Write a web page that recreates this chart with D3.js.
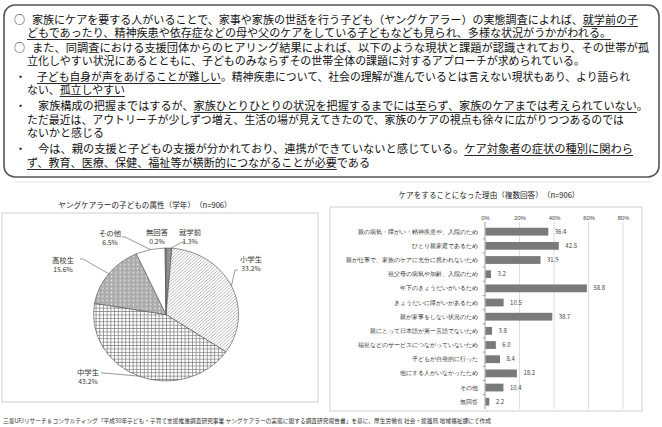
<!DOCTYPE html>
<html><head><meta charset="utf-8">
<script src="https://cdn.jsdelivr.net/npm/d3@7"></script>
<style>
html,body{margin:0;padding:0;background:#fff;}
svg{display:block;font-family:"Noto Sans CJK JP","Noto Sans",sans-serif;}
</style></head>
<body>
<svg id="c" width="662" height="427"></svg>
<script>
// ---------- DATA ----------
const topMarks = ["○", "", "○", "", "・", "", "・", "", "", "・", ""];
const topTexts = [
  [["家族にケアを要する人がいることで、家事や家族の世話を行う子ども（ヤングケアラー）の実態調査によれば、",0],["就学前の子",1]],
  [["どもであったり、精神疾患や依存症などの母や父のケアをしている子どもなども見られ、多様な状況がうかがわれる。",1]],
  [["また、同調査における支援団体からのヒアリング結果によれば、以下のような現状と課題が認識されており、その世帯が孤",0]],
  [["立化しやすい状況にあるとともに、子どものみならずその世帯全体の課題に対するアプローチが求められている。",0]],
  [["子ども自身が声をあげることが難しい",1],["。精神疾患について、社会の理解が進んでいるとは言えない現状もあり、より語られ",0]],
  [["ない、",0],["孤立しやすい",1]],
  [["家族構成の把握まではするが、",0],["家族ひとりひとりの状況を把握するまでには至らず、家族のケアまでは考えられていない",1],["。",0]],
  [["ただ最近は、アウトリーチが少しずつ増え、生活の場が見えてきたので、家族のケアの視点も徐々に広がりつつあるのでは",0]],
  [["ないかと感じる",0]],
  [["今は、親の支援と子どもの支援が分かれており、連携ができていないと感じている。",0],["ケア対象者の症状の種別に関わら",1]],
  [["ず、教育、医療、保健、福祉等が横断的につながることが必要",1],["である",0]]
];

const pieTitle = "ヤングケアラーの子どもの属性（学年）　（n=906）";
const pieLabels = ["就学前", "小学生", "中学生", "高校生", "その他", "無回答"];
const pieValues = [1.3, 33.2, 43.2, 15.6, 6.5, 0.2];

const barTitle = "ケアをすることになった理由（複数回答）　（n=906）";
const barCategories = [
  "親の病気・障がい・精神疾患や、入院のため",
  "ひとり親家庭であるため",
  "親が仕事で、家族のケアに充分に携われないため",
  "祖父母の病気や加齢、入院のため",
  "年下のきょうだいがいるため",
  "きょうだいに障がいがあるため",
  "親が家事をしない状況のため",
  "親にとって日本語が第一言語でないため",
  "福祉などのサービスにつながっていないため",
  "子どもが自発的に行った",
  "他にする人がいなかったため",
  "その他",
  "無回答"
];
const barValues = [36.4, 42.5, 31.9, 3.2, 58.8, 10.5, 38.7, 3.8, 6.0, 8.4, 18.2, 10.4, 2.2];
const barTicks = [0, 20, 40, 60, 80];
const barTickLabels = ["0%", "20%", "40%", "60%", "80%"];

const sourceNote = "三菱UFJリサーチ＆コンサルティング「平成30年子ども・子育て支援推進調査研究事業 ヤングケアラーの実態に関する調査研究報告書」を基に、厚生労働省 社会・援護局 地域福祉課にて作成";

// ---------- LAYOUT ----------
const svg = d3.select("#c");

// top box
svg.append("rect").attr("x", 4).attr("y", 5).attr("width", 655).attr("height", 172)
  .attr("rx", 11).attr("fill", "#fff").attr("stroke", "#555").attr("stroke-width", 1.6);

const lineY = [20, 33, 48, 61, 77, 90, 106, 120, 133, 149, 163];
const lineX0 = [32, 27, 32, 27, 37, 27, 38, 27, 27, 38, 27];
const lineX1 = [638, 611, 649, 585, 630, 125, 648, 624, 104, 633, 370];

topTexts.forEach((segs, i) => {
  if (topMarks[i]) {
    svg.append("text").attr("x", topMarks[i] === "○" ? 14 : 15).attr("y", lineY[i] + 4)
      .attr("font-size", 11).attr("fill", "#111").text(topMarks[i]);
  }
  const t = svg.append("text").attr("x", lineX0[i]).attr("y", lineY[i] + 4)
    .attr("font-size", 11).attr("fill", "#111")
    .attr("textLength", lineX1[i] - lineX0[i]).attr("lengthAdjust", "spacingAndGlyphs");
  segs.forEach(s => t.append("tspan").text(s[0]));
  const node = t.node();
  let idx = 0;
  segs.forEach(s => {
    const n = s[0].length;
    if (s[1]) {
      try {
        const a = node.getStartPositionOfChar(idx).x;
        const b = node.getEndPositionOfChar(idx + n - 1).x;
        svg.append("line").attr("x1", a).attr("x2", b)
          .attr("y1", lineY[i] + 6.5).attr("y2", lineY[i] + 6.5)
          .attr("stroke", "#111").attr("stroke-width", 0.9);
      } catch (e) {}
    }
    idx += n;
  });
});

// faint line under text box
svg.append("line").attr("x1", 15).attr("x2", 651).attr("y1", 182).attr("y2", 182)
  .attr("stroke", "#e2e2e2").attr("stroke-width", 1);

// ---------- PIE ----------
const defs = svg.append("defs");
function pat(id, w, bg, draw) {
  const p = defs.append("pattern").attr("id", id).attr("patternUnits", "userSpaceOnUse")
    .attr("width", w).attr("height", w);
  p.append("rect").attr("width", w).attr("height", w).attr("fill", bg);
  draw(p);
}
pat("pDark", 2.5, "#8a8a8a", p => p.append("rect").attr("width", 1).attr("height", 1).attr("fill", "#cfcfcf"));
pat("pDiag", 3.2, "#fff", p => p.append("path").attr("d", "M-1,1 L1,-1 M0,3.2 L3.2,0 M2.2,4.2 L4.2,2.2")
  .attr("stroke", "#999").attr("stroke-width", 0.7));
pat("pGrid", 3.4, "#fff", p => p.append("path").attr("d", "M0,0.4 H3.4 M0.4,0 V3.4")
  .attr("stroke", "#7d7d7d").attr("stroke-width", 0.7));
pat("pDots", 4, "#ababab", p => p.append("circle").attr("cx", 2).attr("cy", 2).attr("r", 0.75).attr("fill", "#fff"));
const fills = ["url(#pDark)", "url(#pDiag)", "url(#pGrid)", "url(#pDots)", "#fff", "#999"];

svg.append("rect").attr("x", 2).attr("y", 213).attr("width", 316).attr("height", 189)
  .attr("fill", "#fff").attr("stroke", "#cfcfcf").attr("stroke-width", 1);
svg.append("text").attr("x", 145).attr("y", 208).attr("text-anchor", "middle")
  .attr("font-size", 7.6).attr("fill", "#222").text(pieTitle);

const cx = 166, cy = 314.5, R = 66.5, sx = 1.09;
const pie = d3.pie().sort(null).value(d => d)(pieValues);
const arc = d3.arc().innerRadius(0).outerRadius(R);
const pg = svg.append("g").attr("transform", `translate(${cx},${cy}) scale(${sx},1)`);
pg.selectAll("path").data(pie).join("path")
  .attr("d", arc).attr("fill", (d, i) => fills[i])
  .attr("stroke", "#555").attr("stroke-width", 0.6);

// label centres (name line); value line sits 9px below
const labelPos = [[190, 232], [251, 259], [88, 372], [63, 260], [110, 233], [157, 232]];
const leaderStart = [[185, 242], [238, 270], [101, 373], [80, 259], [122, 237], null];
pie.forEach((d, i) => {
  const [lx, ly] = labelPos[i];
  svg.append("text").attr("x", lx).attr("y", ly + 3).attr("text-anchor", "middle")
    .attr("font-size", 7.4).attr("fill", "#333").text(pieLabels[i]);
  svg.append("text").attr("x", lx).attr("y", ly + 12).attr("text-anchor", "middle")
    .attr("font-size", 6.8).attr("fill", "#333").text(d3.format(".1f")(pieValues[i]) + "%");
  if (leaderStart[i]) {
    const a = (d.startAngle + d.endAngle) / 2;
    const rr = i === 0 ? R * 0.98 : R;
    const ex = cx + sx * rr * Math.sin(a), ey = cy - rr * Math.cos(a);
    const [sx0, sy0] = leaderStart[i];
    const dir = ex > sx0 ? 1 : -1;
    svg.append("path").attr("d", `M${sx0},${sy0} L${sx0 + dir * 3},${sy0} L${ex},${ey}`)
      .attr("fill", "none").attr("stroke", "#555").attr("stroke-width", 0.6);
  }
});

// ---------- BAR ----------
svg.append("rect").attr("x", 330).attr("y", 207).attr("width", 312).attr("height", 204)
  .attr("fill", "#fff").attr("stroke", "#cfcfcf").attr("stroke-width", 1);
svg.append("text").attr("x", 489).attr("y", 198).attr("text-anchor", "middle")
  .attr("font-size", 7.6).attr("fill", "#222").text(barTitle);

const x = d3.scaleLinear().domain([0, 80]).range([485, 623]);
const y = d3.scaleBand().domain(barCategories).range([224.6, 408.8])
  .paddingInner(0.45).paddingOuter(0.225);

svg.append("g").selectAll("line").data(barTicks.slice(1)).join("line")
  .attr("x1", d => x(d)).attr("x2", d => x(d)).attr("y1", 222).attr("y2", 409)
  .attr("stroke", "#d6d6d6").attr("stroke-width", 0.8);

const xAxis = d3.axisTop(x).tickValues(barTicks).tickSize(0).tickPadding(0)
  .tickFormat((d, i) => barTickLabels[i]);
const xg = svg.append("g").attr("transform", "translate(0,220)").call(xAxis);
xg.select(".domain").remove();
xg.selectAll("text").attr("font-size", 5.8).attr("fill", "#444").attr("font-family", "inherit");

const yAxis = d3.axisLeft(y).tickSize(0).tickPadding(7);
const yg = svg.append("g").attr("transform", `translate(${x(0)},0)`).call(yAxis);
yg.select(".domain").attr("stroke", "#888").attr("stroke-width", 0.8).attr("d", `M0,222V409`);
yg.selectAll("text").attr("font-size", 6.4).attr("fill", "#333").attr("font-family", "inherit");
const step = y.step();
svg.append("g").selectAll("line").data(barCategories.slice(1)).join("line")
  .attr("x1", x(0) - 2.5).attr("x2", x(0))
  .attr("y1", d => y(d) - (step - y.bandwidth()) / 2)
  .attr("y2", d => y(d) - (step - y.bandwidth()) / 2)
  .attr("stroke", "#888").attr("stroke-width", 0.7);

svg.append("g").selectAll("rect").data(barValues).join("rect")
  .attr("x", x(0) + 0.5).attr("y", (d, i) => y(barCategories[i]))
  .attr("width", d => x(d) - x(0)).attr("height", y.bandwidth())
  .attr("fill", "#7a7a7a");
svg.append("g").selectAll("text").data(barValues).join("text")
  .attr("x", d => x(d) + 7).attr("y", (d, i) => y(barCategories[i]) + y.bandwidth() / 2 + 2)
  .attr("font-size", 6).attr("fill", "#444").text(d => d3.format(".1f")(d));

svg.append("text").attr("x", 3).attr("y", 423).attr("font-size", 6)
  .attr("fill", "#333").attr("textLength", 488).attr("lengthAdjust", "spacingAndGlyphs")
  .text(sourceNote);
</script>
</body></html>
